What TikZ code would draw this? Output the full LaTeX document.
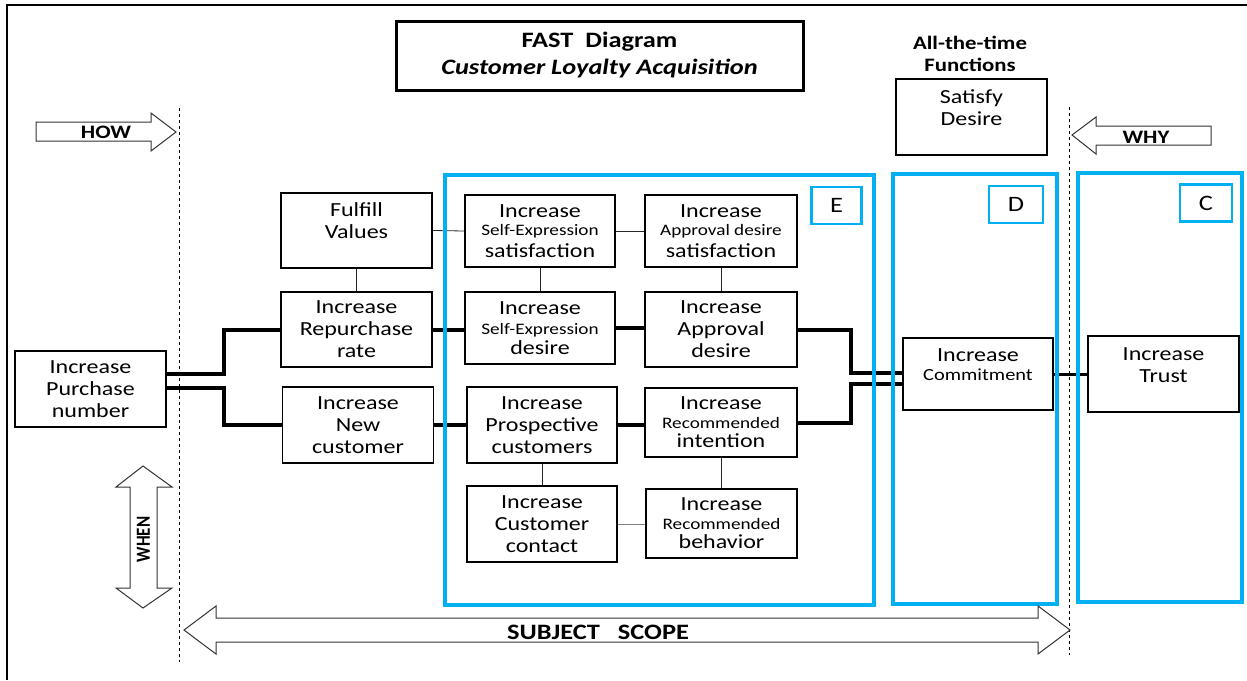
\documentclass[tikz,border=0pt]{standalone}
\usepackage{fontspec}
\setmainfont[FakeStretch=1.2]{Carlito}
\newfontfamily\whenfont[FakeStretch=0.85]{Carlito}
\usetikzlibrary{calc}
\definecolor{scopeblue}{RGB}{0,176,240}
\newcommand{\sz}[2]{\fontsize{#1}{#2}\selectfont}
\newcommand{\minor}[1]{{\sz{16}{18}#1}}
\newcommand{\toptext}[2]{\parbox[c][#1][t]{140pt}{\centering #2}}
\tikzset{
	fn/.style={draw, line width=1.1pt, fill=white, minimum width=151pt, minimum height=75pt, inner sep=0pt, align=center, font=\sz{20}{22}},
	trunk/.style={line width=4pt},
	tie/.style={draw=black!85, line width=0.8pt},
	scopebox/.style={draw=scopeblue, line width=4pt},
	tag/.style={draw=scopeblue, line width=2.5pt, minimum width=50pt, minimum height=37pt, inner sep=0pt, font=\sz{22}{24}},
	bigarrow/.style={draw=black!80, line width=1pt, fill=white},
	arrowtext/.style={font=\bfseries\sz{19}{21}},
	border/.style={dashed, line width=0.7pt}
}

\begin{document}
\begin{tikzpicture}[x=1pt,y=-1pt]
	\useasboundingbox (0,0) rectangle (1247,680);
	\draw[line width=1.5pt] (7,680) -- (7,5) -- (1247,5);

	% title
	\node[draw, line width=3pt, minimum width=407pt, minimum height=69pt, align=center, font=\bfseries\sz{22}{27}] (title) at (599.5,55.5) {FAST\ \ Diagram\\\itshape Customer Loyalty Acquisition};
	\node[align=center, font=\bfseries\sz{19}{22}] (always) at (970,54) {All-the-time\\Functions};

	% functions
	\node[fn, minimum height=76pt] (purchase) at (90.5,389) {Increase\\Purchase\\number};
	\node[fn] (values) at (356.5,230.5) {\toptext{56pt}{Fulfill\\Values}};
	\node[fn] (repurchase) at (356.5,329.5) {Increase\\Repurchase\\rate};
	\node[fn, minimum height=76pt] (newcust) at (358,425) {Increase\\New\\customer};
	\node[fn, minimum width=150pt, minimum height=72pt] (selfsat) at (540,231) {Increase\\[-4pt]\minor{Self-Expression}\\satisfaction};
	\node[fn, minimum width=150pt, minimum height=72pt] (selfdes) at (540,328) {Increase\\[-2pt]\minor{Self-Expression}\\[-2pt]desire};
	\node[fn, minimum width=150pt, minimum height=76pt] (prospect) at (542,425) {Increase\\Prospective\\customers};
	\node[fn, minimum width=150pt, minimum height=76pt] (contact) at (542,524) {Increase\\Customer\\contact};
	\node[fn, minimum width=152pt, minimum height=72pt] (apprsat) at (721,231) {Increase\\[-4pt]\minor{Approval desire}\\satisfaction};
	\node[fn, minimum width=152pt] (apprdes) at (721,329.5) {Increase\\Approval\\desire};
	\node[fn, minimum width=152pt, minimum height=69pt] (recint) at (721,422.5) {Increase\\[-3pt]\minor{Recommended}\\[-3pt]intention};
	\node[fn, minimum height=69pt] (recbeh) at (721.5,523.5) {Increase\\[-3pt]\minor{Recommended}\\[-3pt]behavior};
	\node[fn, minimum width=150pt, minimum height=72pt] (commit) at (978,374) {\toptext{50pt}{Increase\\[-3pt]{\sz{17}{19}Commitment}}};
	\node[fn, minimum height=76pt] (trust) at (1163.5,374) {\toptext{53pt}{Increase\\Trust}};
	\node[fn, minimum height=76pt] (satisfy) at (971.5,117) {\toptext{55pt}{Satisfy\\Desire}};

	% critical path
	\draw[trunk] ([yshift=15pt]purchase.east) -- ++(57.5,0) |- (repurchase.west);
	\draw[trunk] ([yshift=1pt]purchase.east) -- ++(57.5,0) |- (newcust.west);
	\draw[trunk] (repurchase.east) -- (selfdes.west |- repurchase.east);
	\draw[trunk] (newcust.east) -- (prospect.west);
	\draw[trunk] (selfdes.east) -- (apprdes.west |- selfdes.east);
	\draw[trunk] (prospect.east) -- (prospect.east -| recint.west);
	\draw[trunk] (apprdes.east) -- ++(53,0) |- ([yshift=1pt]commit.west);
	\draw[trunk] (recint.east) -- ++(53,0) |- ([yshift=-10pt]commit.west);
	\draw[line width=3pt] (commit.east) -- (trust.west);

	% side functions
	\draw[tie] (values.east) -- (selfsat.west);
	\draw[tie] (values.south) -- (repurchase.north);
	\draw[tie] (selfsat.east) -- (apprsat.west);
	\draw[tie] (selfsat.south) -- (selfdes.north);
	\draw[tie] (apprsat.south) -- (apprdes.north);
	\draw[tie] (prospect.south) -- (contact.north);
	\draw[tie] (recint.south) -- (recint.south |- recbeh.north);
	\draw[tie, draw=black!50] (contact.east) -- (contact.east -| recbeh.west);

	% groups
	\draw[scopebox] (445,175) rectangle (874,605);
	\draw[scopebox] (893,174) rectangle (1057,604);
	\draw[scopebox] (1078,173) rectangle (1242,602);
	\node[tag] (tagE) at (836.5,205.5) {E};
	\node[tag, minimum width=54pt] (tagD) at (1016,204.5) {D};
	\node[tag, minimum width=52pt] (tagC) at (1206,203) {C};

	% scope lines and direction arrows
	\draw[border] (179,108) -- (179,662);
	\draw[border] (1069,107) -- (1069,655);
	\draw[bigarrow] (36,122) -- (151,122) -- (151,113) -- (176,132) -- (151,151) -- (151,141) -- (36,141) -- cycle;
	\draw[bigarrow] (1211,126) -- (1096,126) -- (1096,117) -- (1072,135) -- (1096,154) -- (1096,145) -- (1211,145) -- cycle;
	\draw[bigarrow] (130,487) -- (116,487) -- (143,466) -- (172,487) -- (157,487) -- (157,588) -- (172,588) -- (143,608) -- (116,588) -- (130,588) -- cycle;
	\draw[bigarrow] (216,618) -- (1038,618) -- (1038,606) -- (1070,630) -- (1038,654) -- (1038,642) -- (216,642) -- (216,654) -- (184,630) -- (216,606) -- cycle;
	\node[arrowtext] (how) at (106,132) {HOW};
	\node[arrowtext] (why) at (1146,137.5) {WHY};
	\node[rotate=90, font=\whenfont\bfseries\sz{20}{22}] (when) at (143.5,539.5) {WHEN};
	\node[font=\bfseries\sz{22}{24}] (scope) at (598,632) {SUBJECT\ \ \ SCOPE};
\end{tikzpicture}
\end{document}
